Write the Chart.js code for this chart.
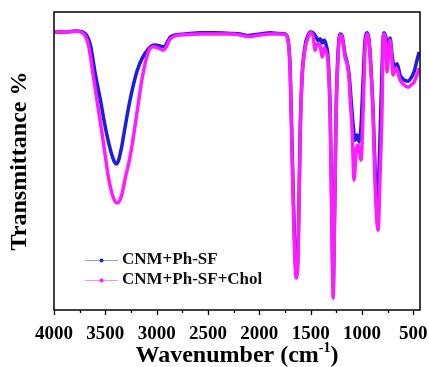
<!DOCTYPE html>
<html>
<head>
<meta charset="utf-8">
<title>FTIR spectra</title>
<script src="https://cdn.jsdelivr.net/npm/chart.js@4.4.1/dist/chart.umd.min.js"></script>
<style>
  html, body { margin: 0; padding: 0; background: #fff; }
  canvas { display: block; }
</style>
</head>
<body>
<canvas id="ftir-chart" width="429" height="367"></canvas>
<script>
// x axis labels (cm-1)
const wavenumberTicks = [4000, 3500, 3000, 2500, 2000, 1500, 1000, 500];

const seriesNames = ["CNM+Ph-SF", "CNM+Ph-SF+Chol"];

// CNM+Ph-SF
const phSfWavenumber = [
  3995, 3888, 3791, 3723, 3684, 3645, 3596, 3548, 3499, 3450, 3411, 3392, 3373,
  3343, 3304, 3265, 3227, 3188, 3139, 3090, 3051, 3013, 2964, 2925, 2896, 2867,
  2818, 2721, 2575, 2429, 2283, 2186, 2118, 2069, 1991, 1894, 1797, 1748, 1719,
  1699, 1680, 1660, 1641, 1622, 1602, 1583, 1553, 1524, 1505, 1476, 1446, 1427,
  1407, 1388, 1369, 1349, 1330, 1310, 1291, 1281, 1271, 1252, 1232, 1213, 1193,
  1164, 1145, 1125, 1106, 1086, 1067, 1048, 1028, 1009, 989, 970, 950, 931, 911,
  892, 872, 853, 834, 814, 795, 785, 765, 746, 727, 707, 688, 658, 629, 590, 551,
  522, 493, 464, 444,
];
const phSfTransmittance = [
  93.3, 93.3, 93.6, 93.3, 92.3, 88.9, 78.9, 70.5, 61.1, 53.7, 49.7, 49.0, 50.0,
  54.4, 62.1, 69.5, 75.5, 80.5, 84.6, 87.2, 88.6, 88.9, 88.6, 88.3, 89.9, 91.6,
  92.3, 92.6, 93.0, 93.0, 92.8, 92.6, 92.1, 92.3, 92.6, 93.0, 92.8, 92.6, 90.6,
  80.5, 53.7, 26.8, 12.8, 20.1, 60.4, 78.9, 88.9, 92.3, 93.3, 93.0, 91.6, 90.3,
  91.0, 89.6, 90.6, 88.9, 84.6, 67.1, 26.8, 7.4, 23.5, 67.1, 87.2, 92.6, 91.9,
  85.6, 83.2, 78.9, 70.5, 62.1, 57.0, 58.7, 56.4, 62.1, 77.2, 90.6, 93.0, 90.6,
  80.5, 67.1, 47.0, 34.2, 47.0, 70.5, 90.6, 93.0, 91.3, 87.9, 91.3, 85.6, 81.9,
  82.6, 78.9, 77.2, 76.8, 77.9, 79.9, 83.9, 86.6,
];

// CNM+Ph-SF+Chol
const cholWavenumber = [
  3995, 3888, 3791, 3723, 3694, 3664, 3616, 3567, 3518, 3470, 3421, 3382, 3343,
  3304, 3265, 3236, 3188, 3139, 3081, 3032, 2983, 2935, 2906, 2876, 2828, 2721,
  2575, 2429, 2283, 2186, 2118, 2069, 1991, 1894, 1797, 1748, 1719, 1699, 1680,
  1660, 1641, 1622, 1602, 1583, 1553, 1524, 1505, 1476, 1456, 1437, 1407, 1388,
  1369, 1349, 1330, 1310, 1291, 1281, 1271, 1252, 1232, 1213, 1193, 1164, 1145,
  1125, 1116, 1096, 1077, 1057, 1038, 1009, 989, 970, 950, 931, 911, 892, 872,
  843, 824, 804, 795, 785, 765, 756, 736, 727, 707, 697, 668, 629, 590, 551, 522,
  493, 464, 444,
];
const cholTransmittance = [
  93.3, 93.3, 93.5, 93.0, 91.9, 88.9, 78.2, 67.1, 56.0, 44.6, 37.6, 35.9, 38.3,
  44.6, 50.3, 56.0, 67.1, 78.2, 86.6, 88.3, 87.9, 87.2, 88.3, 90.6, 91.9, 92.4,
  92.6, 92.6, 92.6, 92.3, 91.8, 91.9, 92.3, 92.6, 92.6, 92.4, 89.9, 78.9, 50.3,
  23.5, 10.7, 18.5, 58.7, 77.9, 87.9, 91.6, 93.0, 91.9, 87.2, 89.3, 88.6, 84.9,
  87.9, 86.6, 82.9, 65.4, 23.5, 4.0, 21.8, 65.4, 85.6, 92.3, 91.3, 84.6, 82.6,
  77.2, 71.1, 60.4, 43.6, 53.7, 55.4, 50.3, 67.1, 87.2, 92.6, 89.9, 78.9, 65.4,
  41.9, 26.8, 45.3, 68.8, 88.9, 92.6, 87.2, 79.9, 88.9, 90.6, 83.2, 78.9, 81.2,
  77.2, 75.5, 74.8, 75.5, 76.5, 78.9, 81.2,
];

const colors = {
  phSf: "#1c1ce4",
  phSfLegend: "#9a9aef",
  chol: "#ff1cff",
  cholLegend: "#ff8cff",
};

const serif = "'Liberation Serif', 'Times New Roman', serif";

const toPoints = (xs, ys) => xs.map((x, i) => ({ x, y: ys[i] }));

// box around the plot plus outward tick marks on the bottom edge
const framePlugin = {
  id: "frame",
  afterDraw(chart) {
    const { ctx, chartArea: area, scales } = chart;
    const x = scales.x;
    ctx.save();
    ctx.strokeStyle = "#000";
    ctx.lineWidth = 1.5;
    ctx.strokeRect(area.left, area.top, area.right - area.left, area.bottom - area.top);

    ctx.lineWidth = 1.3;
    ctx.beginPath();
    wavenumberTicks.forEach((v) => {
      const px = Math.round(x.getPixelForValue(v)) + 0.5;
      ctx.moveTo(px, area.bottom);
      ctx.lineTo(px, area.bottom + 5);
      const minor = v - 250;
      if (minor > x.min) {
        const mx = Math.round(x.getPixelForValue(minor)) + 0.5;
        ctx.moveTo(mx, area.bottom);
        ctx.lineTo(mx, area.bottom + 3);
      }
    });
    ctx.stroke();

    // x axis title with superscript
    ctx.fillStyle = "#000";
    ctx.textBaseline = "alphabetic";
    const big = "bold 24px " + serif;
    const small = "bold 14px " + serif;
    const main = "Wavenumber (cm";
    const sup = "-1";
    const close = ")";
    ctx.font = big;
    const w1 = ctx.measureText(main).width;
    const w3 = ctx.measureText(close).width;
    ctx.font = small;
    const w2 = ctx.measureText(sup).width;
    const cx = (area.left + area.right) / 2;
    let tx = cx - (w1 + w2 + w3) / 2;
    const base = 362;
    ctx.font = big;
    ctx.fillText(main, tx, base);
    tx += w1;
    ctx.font = small;
    ctx.fillText(sup, tx, base - 10);
    tx += w2;
    ctx.font = big;
    ctx.fillText(close, tx, base);
    ctx.restore();
  },
};

// legend: thin line with a dot, then the series name
const legendPlugin = {
  id: "lineDotLegend",
  afterDraw(chart) {
    const { ctx, chartArea: area } = chart;
    const entries = [
      { name: seriesNames[0], line: colors.phSfLegend, dot: colors.phSf },
      { name: seriesNames[1], line: colors.cholLegend, dot: colors.chol },
    ];
    ctx.save();
    ctx.font = "bold 17px " + serif;
    ctx.textBaseline = "middle";
    entries.forEach((e, i) => {
      const y = area.top + 248 + i * 20;
      const x0 = area.left + 31;
      ctx.strokeStyle = e.line;
      ctx.lineWidth = 1;
      ctx.beginPath();
      ctx.moveTo(x0, y + 0.5);
      ctx.lineTo(x0 + 33, y + 0.5);
      ctx.stroke();
      ctx.fillStyle = e.dot;
      ctx.beginPath();
      ctx.arc(x0 + 16.5, y + 0.5, 2, 0, Math.PI * 2);
      ctx.fill();
      ctx.fillStyle = "#111";
      ctx.fillText(e.name, x0 + 37, y);
    });
    ctx.restore();
  },
};

const ctx = document.getElementById("ftir-chart").getContext("2d");

new Chart(ctx, {
  type: "line",
  data: {
    datasets: [
      {
        label: seriesNames[0],
        data: toPoints(phSfWavenumber, phSfTransmittance),
        borderColor: colors.phSf,
        borderWidth: 3.5,
        pointRadius: 0,
        cubicInterpolationMode: "monotone",
        order: 1,
      },
      {
        label: seriesNames[1],
        data: toPoints(cholWavenumber, cholTransmittance),
        borderColor: colors.chol,
        borderWidth: 3.5,
        pointRadius: 0,
        cubicInterpolationMode: "monotone",
        order: 0,
      },
    ],
  },
  options: {
    responsive: false,
    animation: false,
    devicePixelRatio: 1,
    layout: {
      padding: { top: 12, right: 9, left: 0, bottom: 0 },
    },
    plugins: {
      legend: { display: false },
      tooltip: { enabled: false },
    },
    scales: {
      x: {
        type: "linear",
        reverse: true,
        min: 435,
        max: 4000,
        afterBuildTicks: (scale) => {
          scale.ticks = wavenumberTicks.map((value) => ({ value }));
        },
        afterFit: (scale) => {
          scale.height = 57;
          scale.paddingLeft = 0;
          scale.paddingRight = 0;
        },
        grid: { display: false, drawTicks: false },
        border: { display: false },
        ticks: {
          autoSkip: false,
          maxRotation: 0,
          padding: 13,
          color: "#000",
          font: { family: serif, size: 19, weight: "bold" },
          callback: (value) => String(value),
        },
      },
      y: {
        min: 0,
        max: 100,
        afterFit: (scale) => {
          scale.width = 54;
        },
        grid: { display: false, drawTicks: false },
        border: { display: false },
        ticks: { display: false },
        title: {
          display: true,
          text: "Transmittance %",
          color: "#000",
          padding: { top: 8, bottom: 0 },
          font: { family: serif, size: 24, weight: "bold", lineHeight: 1 },
        },
      },
    },
  },
  plugins: [framePlugin, legendPlugin],
});
</script>
</body>
</html>
